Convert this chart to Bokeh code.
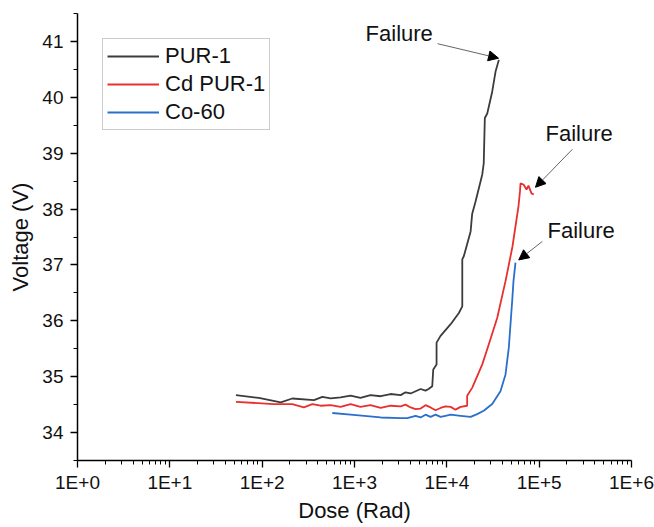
from bokeh.plotting import figure
from bokeh.models import (Legend, LegendItem, FixedTicker, SingleIntervalTicker,
                          Label, Arrow, NormalHead, Range1d)
from bokeh.embed import file_html
from bokeh.resources import INLINE

# ---------------- data ----------------
pur_dose = [52, 92, 159, 212, 364, 449, 551, 707, 907, 1160, 1490, 1920, 2460, 3160, 3570,
            4050, 4590, 5200, 5880, 6340, 6950, 7130, 7740, 7740, 8550, 11000, 13500, 14700,
            14700, 15300, 18100, 18800, 20500, 24200, 25100, 25800, 27400, 31000, 33700, 36600]
pur_volt = [34.67, 34.62, 34.54, 34.61, 34.58, 34.64, 34.61, 34.63, 34.66, 34.62, 34.67, 34.65,
            34.69, 34.67, 34.72, 34.70, 34.74, 34.78, 34.75, 34.78, 34.83, 35.13, 35.22, 35.61,
            35.73, 35.94, 36.14, 36.26, 37.10, 37.16, 37.60, 37.91, 38.14, 38.62, 38.82, 39.63,
            39.71, 40.10, 40.46, 40.67]

cd_dose = [52, 133, 212, 283, 349, 430, 551, 707, 907, 1160, 1490, 1920, 2460, 3160, 3570,
           4050, 4590, 5200, 5880, 6660, 7550, 8550, 9680, 11000, 12400, 14100, 16600, 16600,
           18800, 24200, 28500, 35100, 43200, 51400, 59700, 62000, 62800, 67700, 73000, 76600,
           82600, 87500]
cd_volt = [34.55, 34.51, 34.51, 34.45, 34.51, 34.48, 34.49, 34.46, 34.51, 34.46, 34.49, 34.44,
           34.48, 34.47, 34.50, 34.45, 34.42, 34.43, 34.49, 34.45, 34.40, 34.44, 34.47, 34.46,
           34.41, 34.46, 34.48, 34.66, 34.80, 35.22, 35.58, 36.05, 36.71, 37.33, 38.05, 38.32,
           38.46, 38.44, 38.35, 38.42, 38.28, 38.26]

co_dose = [575, 907, 1920, 3160, 3730, 4590, 5200, 5880, 6660, 7550, 8550, 9680, 11000, 14100,
           18100, 21300, 25100, 31000, 38100, 43200, 46900, 51000, 52700, 55400]
co_volt = [34.35, 34.32, 34.27, 34.26, 34.26, 34.30, 34.27, 34.32, 34.28, 34.32, 34.28, 34.30,
           34.32, 34.30, 34.28, 34.33, 34.39, 34.51, 34.74, 35.04, 35.52, 36.35, 36.71, 37.04]

series_names = ["PUR-1", "Cd PUR-1", "Co-60"]
series_colors = ["#3c3c3c", "#e8302f", "#2b6fcc"]

x_ticks = [1, 10, 100, 1000, 10000, 100000, 1000000]
x_tick_labels = ["1E+0", "1E+1", "1E+2", "1E+3", "1E+4", "1E+5", "1E+6"]

fail_text = "Failure"
fail_label_x = [1318, 117000, 123000]
fail_label_y = [41.14, 39.36, 37.62]
arrow_tail_x = [7930, 229000, 108000]
arrow_tail_y = [40.96, 39.07, 37.42]
arrow_tip_x = [36300, 91200, 60100]
arrow_tip_y = [40.70, 38.39, 37.09]

FONT = "Liberation Sans"

p = figure(width=654, height=527, x_axis_type="log",
           x_range=Range1d(1, 1e6), y_range=Range1d(33.5, 41.5),
           output_backend="svg", toolbar_location=None,
           min_border_left=77, min_border_right=23, min_border_top=13, min_border_bottom=67)
p.outline_line_color = None
p.xgrid.visible = False
p.ygrid.visible = False
p.background_fill_color = "white"
p.border_fill_color = "white"

minor = [m * 10 ** e for e in range(0, 6) for m in range(2, 10)]
p.xaxis.ticker = FixedTicker(ticks=x_ticks, minor_ticks=minor)
p.xaxis.major_label_overrides = {float(t): l for t, l in zip(x_ticks, x_tick_labels)}
p.yaxis.ticker = SingleIntervalTicker(interval=1, num_minor_ticks=2)

for ax in (p.xaxis[0], p.yaxis[0]):
    ax.axis_line_color = "black"
    ax.axis_line_width = 1.5
    ax.major_tick_line_color = "black"
    ax.minor_tick_line_color = "black"
    ax.major_tick_line_width = 1.3
    ax.minor_tick_line_width = 1
    ax.major_tick_in = 0
    ax.major_tick_out = 7
    ax.minor_tick_in = 0
    ax.minor_tick_out = 4
    ax.major_label_text_font = FONT
    ax.major_label_text_font_size = "19px"
    ax.major_label_text_color = "#111111"
    ax.axis_label_text_font = FONT
    ax.axis_label_text_font_size = "22px"
    ax.axis_label_text_font_style = "normal"
    ax.axis_label_text_color = "#111111"

p.xaxis.axis_label = "Dose (Rad)"
p.yaxis.axis_label = "Voltage (V)"
p.xaxis.major_label_standoff = 4
p.yaxis.major_label_standoff = 7
p.xaxis.axis_label_standoff = 2
p.yaxis.axis_label_standoff = 6

r1 = p.line(pur_dose, pur_volt, line_color=series_colors[0], line_width=1.8)
r2 = p.line(cd_dose, cd_volt, line_color=series_colors[1], line_width=1.8)
r3 = p.line(co_dose, co_volt, line_color=series_colors[2], line_width=1.8)

legend = Legend(items=[LegendItem(label=series_names[0], renderers=[r1]),
                       LegendItem(label=series_names[1], renderers=[r2]),
                       LegendItem(label=series_names[2], renderers=[r3])],
                location=(25, 330))
legend.label_text_font = FONT
legend.label_text_font_size = "22px"
legend.label_text_color = "#111111"
legend.glyph_width = 52
legend.glyph_height = 24
legend.label_height = 24
legend.label_standoff = 6
legend.spacing = 2
legend.padding = 4
legend.margin = 0
legend.border_line_color = "#9a9a9a"
legend.border_line_width = 1
legend.background_fill_color = "white"
legend.background_fill_alpha = 1
p.add_layout(legend, "center")

for i in range(3):
    p.add_layout(Label(x=fail_label_x[i], y=fail_label_y[i], text=fail_text,
                       text_font=FONT, text_font_size="22px", text_color="#111111",
                       text_baseline="middle", text_align="left"))
    p.add_layout(Arrow(x_start=arrow_tail_x[i], y_start=arrow_tail_y[i],
                       x_end=arrow_tip_x[i], y_end=arrow_tip_y[i],
                       line_color="#666666", line_width=1,
                       end=NormalHead(size=10, fill_color="black", line_color="black",
                                      line_width=1)))

open("out.html", "w").write(file_html(p, INLINE))
